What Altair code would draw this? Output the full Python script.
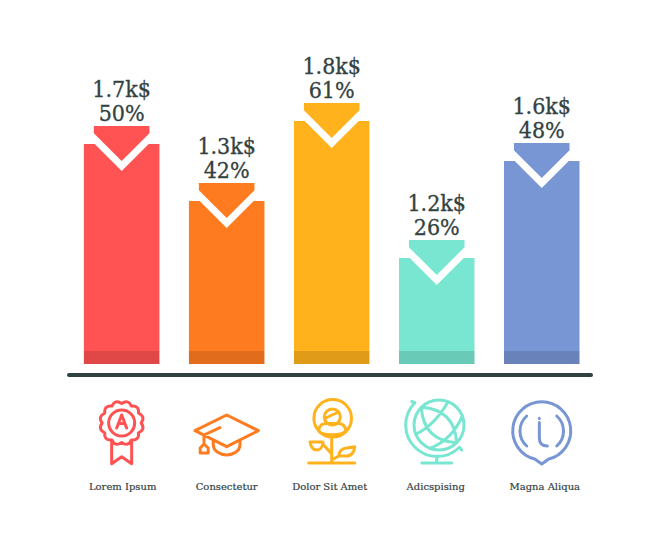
import math
import altair as alt
import pandas as pd

categories = ["Lorem Ipsum", "Consectetur", "Dolor Sit Amet", "Adicspising", "Magna Aliqua"]
bar_heights = [220, 163, 243, 106, 203]
amounts = ["1.7k$", "1.3k$", "1.8k$", "1.2k$", "1.6k$"]
percents = ["50%", "42%", "61%", "26%", "48%"]
colors = ["#ff5252", "#ff7b20", "#ffb21c", "#79e6d2", "#7896d4"]
INK = "#33423f"
SERIF = "DejaVu Serif"
SERIF_C = "DejaVu Serif Condensed"

df = pd.DataFrame({"cat": categories, "h": bar_heights, "amount": amounts, "pct": percents})


def ring(cx, cy, r):
    return f"M{cx-r} {cy}A{r} {r} 0 1 0 {cx+r} {cy}A{r} {r} 0 1 0 {cx-r} {cy}Z"


def scallop(cx, cy, r, R, n):
    pts = []
    for i in range(n):
        a0 = 2 * math.pi * i / n
        am = 2 * math.pi * (i + .5) / n
        a1 = 2 * math.pi * (i + 1) / n
        if i == 0:
            pts.append(f"M{cx+r*math.cos(a0):.2f} {cy+r*math.sin(a0):.2f}")
        pts.append(f"Q{cx+R*math.cos(am):.2f} {cy+R*math.sin(am):.2f} {cx+r*math.cos(a1):.2f} {cy+r*math.sin(a1):.2f}")
    return "".join(pts) + "Z"


ARROW = "M-27.8 -18H27.8V-10.8L0 17L-27.8 -10.8Z"
NOTCH = "M-27.5 -0.5H27.5L0 27Z"

icons = [
    scallop(0, -7, 19.5, 25, 12) + ring(0, -7, 13) + "M-5 -2L0 -15L5 -2M-3.2 -6.5H3.2M-10 11V33.7L0 26.7L10 33.7V11",
    "M0 -15L31.7 .7L0 16.7L-31.7 .7ZM-13.4 10V15C-13.4 21 -6 25 0 25C6 25 13.3 21 13.3 15V10"
    "M-6.7 -2.3L-22.7 5V14M-22.7 14L-26.5 18V23H-18.5V18Z",
    ring(1, -11.7, 18.8) + ring(0.6, -13, 8) + "M-6 -12L7 -18"
    "M-13 1C-13 -5 -8 -7 -5 -6.5H6C9 -7 14 -5 14 1C10 6 -9 6 -13 1Z"
    "M0 7.5V33M-23 33H23M-21.7 12H-8.7C-9 16 -11 20 -15 20C-19 20 -21 16 -21.7 12ZM-8 15L0 24"
    "M7 26C7 21 11 18 15 18L23 16.7C23 21 20 26 15 26ZM0 30L7 26",
    ring(2.3, -5, 25) + "M-25 -28.5L-21.8 -27.3A31.5 31.5 0 0 0 22.8 17.3L25 20M0 26V33M-15 33H15"
    "M-15.4 -22.7Q17.9 -20.6 20 12.7M-15.4 -22.7Q-13.3 10.6 20 12.7"
    "M-21 4.1Q-2.7 -4 11.4 -28.3M-6.8 18.3Q15.3 10 25.6 -14.1",
    "M-7 29A29 29 0 1 1 7 29L0 34ZM-15 -14A20 20 0 0 0 -15 16M15 -14A20 20 0 0 1 15 16"
    "M-2.4 -11.7V-11.6M-2.4 -7.5V8Q-2.4 16 5.6 16",
]
label_nudges = [1, 0, -2, -1, 3]

x_scale = alt.Scale(type="band", domain=categories, range=[61.2, 586.2], paddingInner=0.281, paddingOuter=0.14)
y_scale = alt.Scale(type="linear", domain=[-178, 356], range=[534, 0], nice=False, zero=False)
color_scale = alt.Scale(domain=categories, range=colors)
X = alt.X("cat:N", scale=x_scale, axis=None, sort=None)
Y = alt.Y("h:Q", scale=y_scale, axis=None)
COL = alt.Color("cat:N", scale=color_scale, legend=None)
base = alt.Chart(df)

bars = base.mark_bar().encode(x=X, y=Y, y2=alt.datum(0), color=COL)
band = base.mark_bar(color="#000000", opacity=0.12).encode(
    x=X, y=alt.datum(13, scale=y_scale, axis=None), y2=alt.datum(0))
notch = base.mark_point(shape=NOTCH, size=4, filled=True, fill="#ffffff", stroke=None, opacity=1).encode(x=X, y=Y)
arrow = base.mark_point(shape=ARROW, size=4, filled=True, stroke=None, opacity=1).encode(x=X, y=Y, fill=COL)
t1 = base.mark_text(font=SERIF_C, fontSize=23, color=INK, stroke=INK, strokeWidth=0.3, dy=-47, baseline="alphabetic").encode(x=X, y=Y, text="amount:N")
t2 = base.mark_text(font=SERIF_C, fontSize=23, color=INK, stroke=INK, strokeWidth=0.3, dy=-23, baseline="alphabetic").encode(x=X, y=Y, text="pct:N")
axis_line = alt.Chart(pd.DataFrame({"a": [0]})).mark_rule(strokeWidth=4, strokeCap="round", color="#2f4240").encode(
    x=alt.value(61), x2=alt.value(583), y=alt.value(367))

layers = [bars, band, notch, arrow, t1, t2, axis_line]
for cat, col, path, nudge in zip(categories, colors, icons, label_nudges):
    one = alt.Chart(df[df.cat == cat])
    layers.append(
        one.mark_point(
            shape=path, size=4, filled=False, stroke=col, strokeWidth=3, opacity=1,
            strokeCap="round", strokeJoin="round",
        ).encode(x=X, y=alt.value(422))
    )
    layers.append(
        one.mark_text(font=SERIF, fontSize=10, color=INK, stroke=INK, strokeWidth=0.2, dx=nudge,
                      baseline="alphabetic").encode(x=X, y=alt.value(482), text="cat:N")
    )

chart = alt.layer(*layers).properties(
    width=644, height=534, padding=0, autosize=alt.AutoSizeParams(type="none"), background="#ffffff"
).configure_view(stroke=None)

chart.save("out.html", embed_options={"renderer": "svg", "actions": False})
